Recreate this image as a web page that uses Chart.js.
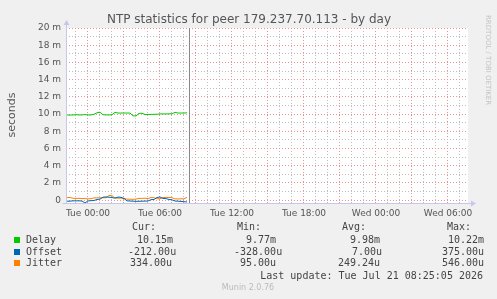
<!DOCTYPE html>
<html>
<head>
<meta charset="utf-8">
<script src="https://cdn.jsdelivr.net/npm/chart.js@4.4.1/dist/chart.umd.min.js"></script>
<style>
  html, body { margin: 0; padding: 0; background: #f0f0f0; }
  canvas { display: block; }
</style>
</head>
<body>
<canvas id="ntpChart" width="497" height="299"></canvas>
<script>
// Hours relative to Tue 00:00, one sample every 15 minutes
const DATA_START = -1.75;
const DATA_STEP = 0.25;
const LAST_UPDATE_H = 8.417;

// Delay in ms (m), offset and jitter in us (u)
const delay = [9.90, 9.88, 9.90, 9.93, 9.90, 9.90, 9.94, 9.90, 9.90, 9.98,
  10.15, 10.22, 9.92, 9.90, 9.90, 9.92, 10.20, 10.12, 10.12, 10.12,
  10.12, 10.12, 9.80, 9.77, 10.08, 10.10, 9.95, 9.95, 9.97, 9.97,
  9.98, 10.02, 10.02, 10.02, 10.03, 10.03, 10.20, 10.12, 10.12, 10.12, 10.15];
const offset = [-120, -120, -80, -80, -80, -100, -328, -90, -60, -40,
  80, 120, 350, 375, 340, 300, 240, 360, 330, 200,
  -80, -100, -120, -140, -130, -120, -110, -100, 60, 80,
  300, 370, 200, 180, 80, 40, -100, -120, -150, -180, -212];
const jitter = [300, 310, 220, 200, 210, 190, 180, 150, 170, 260,
  270, 280, 270, 280, 546, 520, 250, 230, 240, 200,
  120, 110, 95, 130, 200, 210, 220, 190, 300, 290,
  160, 170, 300, 320, 310, 290, 150, 140, 160, 150, 334];

const xTickHours = [0, 6, 12, 18, 24, 30];
const xTickLabels = ['Tue 00:00', 'Tue 06:00', 'Tue 12:00', 'Tue 18:00', 'Wed 00:00', 'Wed 06:00'];
const yTickLabels = ['0', '2 m', '4 m', '6 m', '8 m', '10 m', '12 m', '14 m', '16 m', '18 m', '20 m'];

const seriesNames = ['Delay', 'Offset', 'Jitter'];
const seriesColors = ['#00cc00', '#0066b3', '#ff8000'];
const curVals = ['10.15m', '-212.00u', '334.00u'];
const minVals = ['9.77m', '-328.00u', '95.00u'];
const avgVals = ['9.98m', '7.00u', '249.24u'];
const maxVals = ['10.22m', '375.00u', '546.00u'];

const hours = delay.map((_, i) => DATA_START + i * DATA_STEP);
const toPoints = (vals, scale) => vals.map((v, i) => ({ x: hours[i], y: v * scale }));

const minorGrid = '#bdbdbd';
const majorGrid = '#e89494';
const axisColor = '#c6c6ee';

const munin = {
    id: 'munin',
    beforeDraw(chart) {
        const { ctx, chartArea: a } = chart;
        ctx.save();
        ctx.fillStyle = '#ffffff';
        ctx.fillRect(a.left, a.top, a.right - a.left, a.bottom - a.top);
        ctx.restore();
    },
    afterDatasetsDraw(chart) {
        const { ctx, chartArea: a, scales } = chart;
        ctx.save();
        // data end marker
        const vx = Math.round(scales.x.getPixelForValue(LAST_UPDATE_H)) + 0.5;
        ctx.strokeStyle = '#888888';
        ctx.lineWidth = 1;
        ctx.beginPath();
        ctx.moveTo(vx, a.top);
        ctx.lineTo(vx, a.bottom);
        ctx.stroke();
        // axes with arrows
        ctx.strokeStyle = axisColor;
        ctx.fillStyle = axisColor;
        const ax = Math.round(a.left) + 0.5, ay = Math.round(a.bottom) + 0.5;
        ctx.beginPath();
        ctx.moveTo(ax, ay); ctx.lineTo(ax, a.top - 4);
        ctx.moveTo(ax - 4, ay); ctx.lineTo(a.right + 4, ay);
        ctx.stroke();
        ctx.beginPath();
        ctx.moveTo(ax - 3, a.top - 3); ctx.lineTo(ax + 3, a.top - 3); ctx.lineTo(ax, a.top - 8); ctx.closePath();
        ctx.fill();
        ctx.beginPath();
        ctx.moveTo(a.right + 3, ay - 3); ctx.lineTo(a.right + 3, ay + 3); ctx.lineTo(a.right + 8, ay); ctx.closePath();
        ctx.fill();
        ctx.restore();
    },
    afterDraw(chart) {
        const { ctx } = chart;
        ctx.save();
        ctx.textBaseline = 'middle';
        // title
        ctx.fillStyle = '#555';
        ctx.font = '12px "DejaVu Sans"';
        ctx.textAlign = 'center';
        ctx.fillText('NTP statistics for peer 179.237.70.113 - by day', 249, 20);
        // y unit
        ctx.save();
        ctx.translate(12, 115);
        ctx.rotate(-Math.PI / 2);
        ctx.font = '11px "DejaVu Sans"';
        ctx.fillStyle = '#555';
        ctx.fillText('seconds', 0, 0);
        ctx.restore();
        // watermark
        ctx.save();
        ctx.translate(488, 15);
        ctx.rotate(Math.PI / 2);
        ctx.textAlign = 'left';
        ctx.font = '7px "DejaVu Sans"';
        ctx.fillStyle = '#c4c4c4';
        ctx.fillText('RRDTOOL / TOBI OETIKER', 0, 0);
        ctx.restore();
        // legend
        ctx.textAlign = 'left';
        ctx.font = '10px "DejaVu Sans Mono"';
        ctx.fillStyle = '#444';
        ctx.fillText('Cur:', 132, 227);
        ctx.fillText('Min:', 237, 227);
        ctx.fillText('Avg:', 342, 227);
        ctx.fillText('Max:', 447, 227);
        const rowY = [240, 252, 263];
        const curX = [137, 128, 130];
        const minX = [246, 234, 240];
        const avgX = [350, 352, 338];
        const maxX = [448, 442, 442];
        seriesNames.forEach((name, i) => {
            const y = rowY[i];
            ctx.fillStyle = seriesColors[i];
            ctx.fillRect(14, y - 3, 6, 6);
            ctx.fillStyle = '#444';
            ctx.fillText(name, 26, y);
            ctx.fillText(curVals[i], curX[i], y);
            ctx.fillText(minVals[i], minX[i], y);
            ctx.fillText(avgVals[i], avgX[i], y);
            ctx.fillText(maxVals[i], maxX[i], y);
        });
        ctx.textAlign = 'right';
        ctx.fillText('Last update: Tue Jul 21 08:25:05 2026', 483, 276);
        ctx.textAlign = 'center';
        ctx.font = '8px "DejaVu Sans"';
        ctx.fillStyle = '#bbbbbb';
        ctx.fillText('Munin 2.0.76', 248, 288);
        ctx.restore();
    }
};

const ctx = document.getElementById('ntpChart').getContext('2d');
new Chart(ctx, {
    type: 'line',
    data: {
        datasets: [{
            label: 'Delay',
            data: toPoints(delay, 1),
            borderColor: seriesColors[0]
        }, {
            label: 'Offset',
            data: toPoints(offset, 0.001),
            borderColor: seriesColors[1]
        }, {
            label: 'Jitter',
            data: toPoints(jitter, 0.001),
            borderColor: seriesColors[2]
        }]
    },
    options: {
        responsive: false,
        animation: false,
        devicePixelRatio: 1,
        layout: { padding: { top: 28, right: 29, left: 0, bottom: 0 } },
        elements: {
            line: { borderWidth: 1, tension: 0 },
            point: { radius: 0 }
        },
        plugins: {
            legend: { display: false },
            tooltip: { enabled: false }
        },
        scales: {
            x: {
                type: 'linear',
                min: -1.833,
                max: 31.667,
                afterFit(scale) { scale.height = 96; },
                afterBuildTicks(scale) {
                    const t = [];
                    for (let h = -1; h <= 31; h++) t.push({ value: h });
                    scale.ticks = t;
                },
                grid: {
                    drawTicks: false,
                    color: c => (c.tick && c.tick.value % 3 === 0) ? majorGrid : minorGrid
                },
                border: { display: false, dash: [1, 2] },
                ticks: {
                    autoSkip: false,
                    maxRotation: 0,
                    padding: 5,
                    color: '#555',
                    font: { family: 'DejaVu Sans', size: 9 },
                    callback: v => {
                        const k = xTickHours.indexOf(v);
                        return k >= 0 ? xTickLabels[k] : '';
                    }
                }
            },
            y: {
                min: -0.33,
                max: 20,
                afterFit(scale) { scale.width = 66; },
                afterBuildTicks(scale) {
                    const t = [];
                    for (let v = 0; v <= 20; v++) t.push({ value: v });
                    scale.ticks = t;
                },
                grid: {
                    drawTicks: false,
                    color: c => (c.tick && c.tick.value % 2 === 0) ? majorGrid : minorGrid
                },
                border: { display: false, dash: [1, 2] },
                ticks: {
                    autoSkip: false,
                    padding: 5,
                    color: '#555',
                    font: { family: 'DejaVu Sans', size: 9 },
                    callback: v => v % 2 === 0 ? yTickLabels[v / 2] : ''
                }
            }
        }
    },
    plugins: [munin]
});
</script>
</body>
</html>
